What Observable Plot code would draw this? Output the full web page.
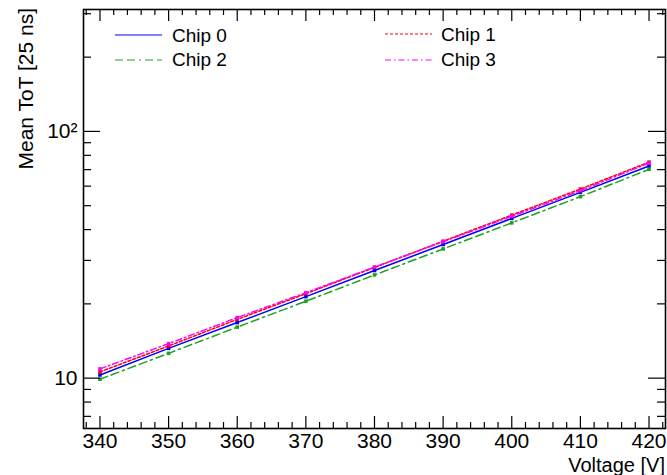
<!DOCTYPE html>
<html><head><meta charset="utf-8">
<script src="https://cdn.jsdelivr.net/npm/d3@7"></script>
<script src="https://cdn.jsdelivr.net/npm/@observablehq/plot@0.6"></script>
<style>body{margin:0;background:#fff}</style>
</head><body><div id="chart"></div>
<script>
const voltages = [340, 350, 360, 370, 380, 390, 400, 410, 420];
const chip0 = [10.3, 13.2, 16.8, 21.4, 27.3, 34.8, 44.4, 56.6, 72.4];
const chip1 = [10.6, 13.5, 17.3, 22.0, 28.1, 35.9, 45.8, 58.4, 75.1];
const chip2 = [9.9, 12.6, 16.1, 20.5, 26.2, 33.4, 42.6, 54.4, 70.2];
const chip3 = [10.9, 13.8, 17.6, 22.2, 28.2, 35.7, 45.3, 57.5, 74.4];
const chipNames = ["Chip 0", "Chip 1", "Chip 2", "Chip 3"];
const chipColors = ["#0000ff", "#ff0000", "#1aa31a", "#ff00ff"];
const chipDashes = [null, "3,2", "8,4,8,4,2,4", "6,3,1.5,3"];
const xMajor = [340, 350, 360, 370, 380, 390, 400, 410, 420];
const xMinor = [338, 342, 344, 346, 348, 352, 354, 356, 358, 362, 364, 366, 368, 372, 374, 376, 378, 382, 384, 386, 388, 392, 394, 396, 398, 402, 404, 406, 408, 412, 414, 416, 418, 422];
const yMajor = [10, 100];
const yMajorLabels = ["10", "10²"];
const yMinor = [7, 8, 9, 20, 30, 40, 50, 60, 70, 80, 90, 200, 300];
const xTitle = "Voltage [V]";
const yTitle = "Mean ToT [25 ns]";

const series = [chip0, chip1, chip2, chip3];
const data = chipNames.flatMap((c, i) => voltages.map((v, j) => ({chip: c, i, v, tot: series[i][j]})));

const W = 667, H = 475, mL = 83, mR = 2, mT = 9, mB = 47;
const fw = W - mL - mR, fh = H - mT - mB;

const plot = Plot.plot({
  width: W, height: H,
  marginLeft: mL, marginRight: mR, marginTop: mT, marginBottom: mB,
  style: {fontFamily: "'Liberation Sans', Arial, sans-serif", fontSize: "21px", background: "white", color: "black"},
  x: {domain: [337.6, 422.4]},
  y: {type: "log", domain: [6.25, 312]},
  marks: [
    ...chipNames.map((c, i) => Plot.line(data.filter(d => d.i === i), {x: "v", y: "tot", stroke: chipColors[i], strokeWidth: 1.5, strokeDasharray: chipDashes[i]})),
    ...chipNames.map((c, i) => Plot.dot(data.filter(d => d.i === i), {x: "v", y: "tot", fill: chipColors[i], symbol: "square", r: 2})),
    Plot.ruleX(xMajor, {insetTop: fh - 12, stroke: "black", strokeWidth: 1.2}),
    Plot.ruleX(xMajor, {insetBottom: fh - 12, stroke: "black", strokeWidth: 1.2}),
    Plot.ruleX(xMinor, {insetTop: fh - 6, stroke: "black", strokeWidth: 1.2}),
    Plot.ruleX(xMinor, {insetBottom: fh - 6, stroke: "black", strokeWidth: 1.2}),
    Plot.ruleY(yMajor, {insetRight: fw - 17, stroke: "black", strokeWidth: 1.2}),
    Plot.ruleY(yMajor, {insetLeft: fw - 17, stroke: "black", strokeWidth: 1.2}),
    Plot.ruleY(yMinor, {insetRight: fw - 8, stroke: "black", strokeWidth: 1.2}),
    Plot.ruleY(yMinor, {insetLeft: fw - 8, stroke: "black", strokeWidth: 1.2}),
    Plot.frame({stroke: "black", strokeWidth: 1.6}),
    Plot.axisX({ticks: xMajor, tickSize: 0, tickPadding: 5, fontSize: 21, tickFormat: d => String(d), label: null}),
    Plot.axisY({ticks: yMajor, tickSize: 0, tickPadding: 6, fontSize: 21, tickFormat: d => yMajorLabels[yMajor.indexOf(d)], label: null})
  ]
});
document.getElementById("chart").appendChild(plot);

const svg = d3.select(plot);
const font = "'Liberation Sans', Arial, sans-serif";
svg.append("text").attr("x", 665).attr("y", 472).attr("text-anchor", "end")
  .attr("font-family", font).attr("font-size", 20).attr("fill", "black").text(xTitle);
svg.append("text").attr("transform", "translate(33,8) rotate(-90)").attr("text-anchor", "end")
  .attr("font-family", font).attr("font-size", 21).attr("fill", "black").text(yTitle);

const legendPos = [
  {lx: 115, ly: 35, tx: 172, ty: 42},
  {lx: 385, ly: 34, tx: 441, ty: 41},
  {lx: 115, ly: 60, tx: 172, ty: 66},
  {lx: 385, ly: 60, tx: 441, ty: 66}
];
chipNames.forEach((c, i) => {
  const p = legendPos[i];
  svg.append("line").attr("x1", p.lx).attr("x2", p.lx + 47).attr("y1", p.ly).attr("y2", p.ly)
    .attr("stroke", chipColors[i]).attr("stroke-width", 1.2).attr("stroke-dasharray", chipDashes[i]);
  svg.append("text").attr("x", p.tx).attr("y", p.ty).attr("text-anchor", "start")
    .attr("font-family", font).attr("font-size", 19).attr("fill", "black").text(c);
});
</script>
</body></html>
